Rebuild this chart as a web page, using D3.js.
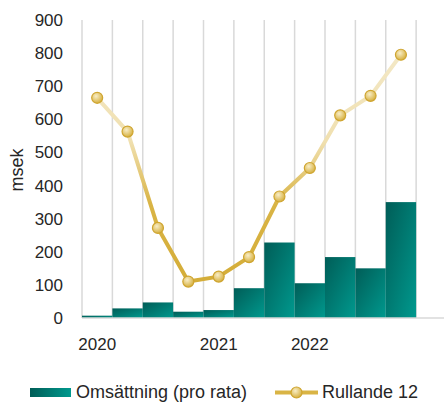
<!DOCTYPE html>
<html>
<head>
<meta charset="utf-8">
<script src="https://cdn.jsdelivr.net/npm/d3@7"></script>
<style>
  body { margin: 0; background: #fff; }
  svg text { font-family: "Liberation Sans", Arial, sans-serif; fill: #262626; }
</style>
</head>
<body>
<svg id="chart" width="444" height="403"></svg>
<script>
// categories (12 slots, last one empty)
categories = ["c1","c2","c3","c4","c5","c6","c7","c8","c9","c10","c11","c12"]
xLabels = ["2020","","","","2021","","","2022","","","",""]
// Omsättning (pro rata)
omsattning = [7, 29, 47, 19, 24, 90, 228, 105, 184, 150, 350]
// Rullande 12
rullande = [665, 563, 272, 110, 125, 184, 367, 453, 612, 671, 795]
yTicks = [0,100,200,300,400,500,600,700,800,900]

svg = d3.select("#chart")
fs = 17
fsBig = 18

xScale = d3.scaleBand()
    .domain(categories)
    .range([82, 446.5])
    .padding(0)

yScale = d3.scaleLinear()
    .domain([0, 900])
    .range([318, 20])

defs = svg.append("defs")

barGrad = defs.append("linearGradient")
    .attr("id", "barGrad")
    .attr("x1", "0").attr("y1", "0").attr("x2", "1").attr("y2", "1")
barGrad.append("stop").attr("offset", "0%").attr("stop-color", "#005d57")
barGrad.append("stop").attr("offset", "100%").attr("stop-color", "#00998e")

legGrad = defs.append("linearGradient")
    .attr("id", "legGrad")
    .attr("x1", "0").attr("y1", "0").attr("x2", "1").attr("y2", "0")
legGrad.append("stop").attr("offset", "0%").attr("stop-color", "#005d57")
legGrad.append("stop").attr("offset", "100%").attr("stop-color", "#00998e")

lineGrad = defs.append("linearGradient")
    .attr("id", "lineGrad")
    .attr("gradientUnits", "userSpaceOnUse")
    .attr("x1", 0).attr("y1", yScale(800)).attr("x2", 0).attr("y2", yScale(100))
lineGrad.append("stop").attr("offset", "0%").attr("stop-color", "#f3e8c6")
lineGrad.append("stop").attr("offset", "38%").attr("stop-color", "#f0e0b0")
lineGrad.append("stop").attr("offset", "65%").attr("stop-color", "#d9b445")
lineGrad.append("stop").attr("offset", "100%").attr("stop-color", "#d4ad38")

dotGrad = defs.append("radialGradient")
    .attr("id", "dotGrad")
    .attr("cx", "40%").attr("cy", "35%").attr("r", "65%")
dotGrad.append("stop").attr("offset", "0%").attr("stop-color", "#f8edc6")
dotGrad.append("stop").attr("offset", "100%").attr("stop-color", "#d6b03f")

// vertical gridlines at category edges
svg.append("g")
    .selectAll("line")
    .data(categories)
    .join("line")
    .attr("x1", d => xScale(d))
    .attr("x2", d => xScale(d))
    .attr("y1", yScale(900))
    .attr("y2", yScale(0))
    .attr("stroke", "#d9d9d9")
    .attr("stroke-width", 1.5)

// bars
svg.append("g")
    .selectAll("rect")
    .data(omsattning)
    .join("rect")
    .attr("x", (d, i) => xScale(categories[i]))
    .attr("y", d => yScale(d))
    .attr("width", xScale.bandwidth())
    .attr("height", d => yScale(0) - yScale(d))
    .attr("fill", "url(#barGrad)")

// bottom axis line
svg.append("line")
    .attr("x1", xScale.range()[0])
    .attr("x2", 444)
    .attr("y1", yScale(0))
    .attr("y2", yScale(0))
    .attr("stroke", "#d9d9d9")
    .attr("stroke-width", 1.5)

// line
line = d3.line()
    .x((d, i) => xScale(categories[i]) + xScale.bandwidth() / 2)
    .y(d => yScale(d))

svg.append("path")
    .datum(rullande)
    .attr("d", line)
    .attr("fill", "none")
    .attr("stroke", "url(#lineGrad)")
    .attr("stroke-width", 4)
    .attr("stroke-linejoin", "round")

svg.append("g")
    .selectAll("circle")
    .data(rullande)
    .join("circle")
    .attr("cx", (d, i) => xScale(categories[i]) + xScale.bandwidth() / 2)
    .attr("cy", d => yScale(d))
    .attr("r", 5.5)
    .attr("fill", "url(#dotGrad)")
    .attr("stroke", "#cfa530")
    .attr("stroke-width", 1.2)

// y axis
yAxis = svg.append("g")
    .attr("transform", "translate(66,0)")
    .call(d3.axisLeft(yScale).tickValues(yTicks).tickSize(0).tickPadding(3))
yAxis.select(".domain").remove()
yAxis.selectAll("text")
    .style("font-size", fs + "px")
    .style("font-family", "'Liberation Sans', Arial, sans-serif")
    .attr("fill", "#262626")

// x axis labels
xAxis = svg.append("g")
    .attr("transform", `translate(0,${yScale(0)})`)
    .call(d3.axisBottom(xScale).tickSize(0).tickPadding(20).tickFormat((d, i) => xLabels[i]))
xAxis.select(".domain").remove()
xAxis.selectAll("text")
    .style("font-size", fs + "px")
    .style("font-family", "'Liberation Sans', Arial, sans-serif")
    .attr("fill", "#262626")

// y title
svg.append("text")
    .attr("transform", "translate(23,170) rotate(-90)")
    .attr("text-anchor", "middle")
    .style("font-size", fsBig + "px")
    .text("msek")

// legend
svg.append("rect")
    .attr("x", 30).attr("y", 388)
    .attr("width", 41).attr("height", 9)
    .attr("fill", "url(#legGrad)")
svg.append("text")
    .attr("x", 76).attr("y", 398)
    .style("font-size", fsBig + "px")
    .text("Omsättning (pro rata)")

svg.append("line")
    .attr("x1", 275).attr("x2", 318)
    .attr("y1", 392.5).attr("y2", 392.5)
    .attr("stroke", "#d9b445")
    .attr("stroke-width", 4)
svg.append("circle")
    .attr("cx", 296.5).attr("cy", 392.5).attr("r", 5.5)
    .attr("fill", "url(#dotGrad)")
    .attr("stroke", "#cfa530")
    .attr("stroke-width", 1.2)
svg.append("text")
    .attr("x", 322).attr("y", 398)
    .style("font-size", fsBig + "px")
    .text("Rullande 12")
</script>
</body>
</html>
